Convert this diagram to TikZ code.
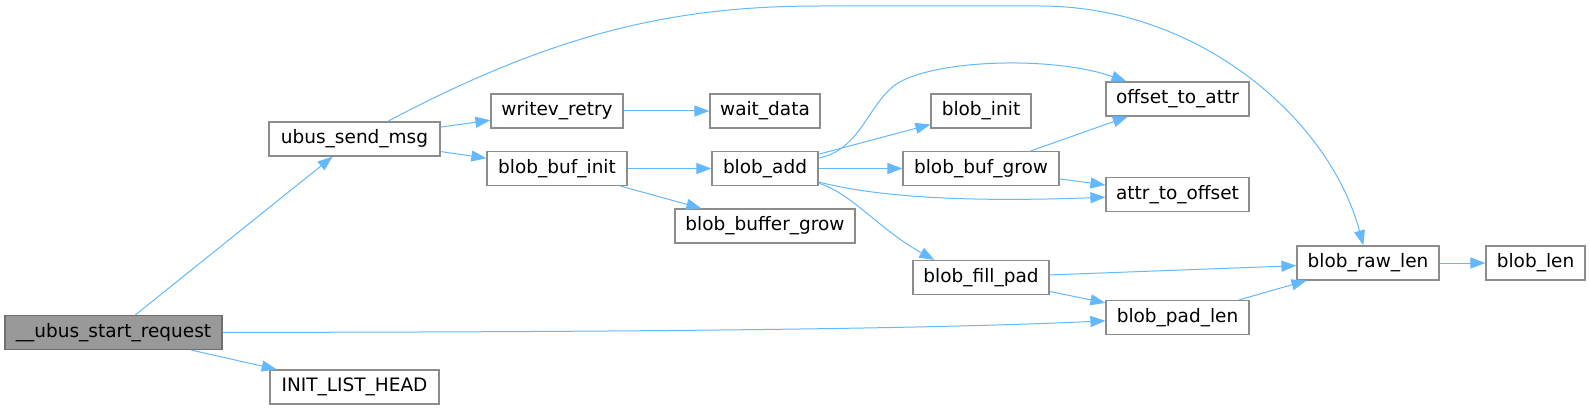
\documentclass[tikz,border=0pt]{standalone}
\usepackage{fontspec}
\setmainfont{DejaVu Sans}
\usetikzlibrary{arrows.meta, positioning}
\definecolor{edgeblue}{HTML}{63B8FF}
\definecolor{boxline}{HTML}{8C8C8C}
\definecolor{rootline}{HTML}{6E6E6E}
\definecolor{rootfill}{HTML}{999999}

\begin{document}
\begin{tikzpicture}[x=1pt, y=-1pt,
            box/.style={draw=boxline, line width=1.2pt, fill=white, minimum height=34pt,
                        inner sep=0pt, font=\fontsize{18.5}{22}\selectfont},
            arr/.style={-{Triangle[length=15pt, width=11pt]}, edgeblue, line width=1pt}]

            \useasboundingbox (0,0) rectangle (1590,409);

            \node[box, draw=rootline, fill=rootfill, minimum width=217pt] (start) at (113.5,332.5) {\_\_ubus\_start\_request};
            \node[box, minimum width=171pt] (send)     at (354.5,139)   {ubus\_send\_msg};
            \node[box, minimum width=169pt] (initlist) at (354.5,387)   {INIT\_LIST\_HEAD};
            \node[box, minimum width=132pt] (writev)   at (557,111)     {writev\_retry};
            \node[box, minimum width=140pt] (bufinit)  at (557,168.5)   {blob\_buf\_init};
            \node[box, minimum width=110pt] (waitdata) at (765,111)     {wait\_data};
            \node[box, minimum width=106pt] (add)      at (765,168.5)   {blob\_add};
            \node[box, minimum width=180pt] (bufgrowb) at (765,226)     {blob\_buffer\_grow};
            \node[box, minimum width=100pt] (blobinit) at (981,111)     {blob\_init};
            \node[box, minimum width=156pt] (bufgrow)  at (981,168.5)   {blob\_buf\_grow};
            \node[box, minimum width=136pt] (fillpad)  at (981,277.5)   {blob\_fill\_pad};
            \node[box, minimum width=143pt] (offattr)  at (1177.5,99)   {offset\_to\_attr};
            \node[box, minimum width=143pt] (attroff)  at (1177.5,194.5) {attr\_to\_offset};
            \node[box, minimum width=143pt] (padlen)   at (1177.5,317.5) {blob\_pad\_len};
            \node[box, minimum width=142pt] (rawlen)   at (1368,263)    {blob\_raw\_len};
            \node[box, minimum width=99pt]  (bloblen)  at (1535.5,263)  {blob\_len};

            % calls from the root
            \draw[arr] (start) -- (send);
            \draw[arr] (start) -- (initlist);
            \draw[arr] (start) .. controls (700,332) and (950,328) .. (padlen);

            \draw[arr] (send) -- (writev);
            \draw[arr] (send) -- (bufinit);
            % long arc over the top
            \draw[arr] (send) .. controls (560,30) and (680,6) .. (820,6) -- (1040,6)
                       .. controls (1200,6) and (1330,120) .. (rawlen);

            \draw[arr] (writev)  -- (waitdata);
            \draw[arr] (bufinit) -- (add);
            \draw[arr] (bufinit) -- (bufgrowb);

            \draw[arr] (add) .. controls (860,150) and (868,105) .. (895,85)
                       .. controls (930,60) and (1050,55) .. (offattr);
            \draw[arr] (add) -- (blobinit);
            \draw[arr] (add) -- (bufgrow);
            \draw[arr] (add) .. controls (870,195) and (950,203) .. (attroff);
            \draw[arr] (add) .. controls (850,192) and (880,230) .. ([xshift=22pt]fillpad.north west);

            \draw[arr] (bufgrow) -- (offattr);
            \draw[arr] (bufgrow) -- (attroff);
            \draw[arr] (fillpad) -- (rawlen);
            \draw[arr] (fillpad) -- (padlen);
            \draw[arr] (padlen)  -- (rawlen);
            \draw[arr] (rawlen)  -- (bloblen);
        \end{tikzpicture}
\end{document}
